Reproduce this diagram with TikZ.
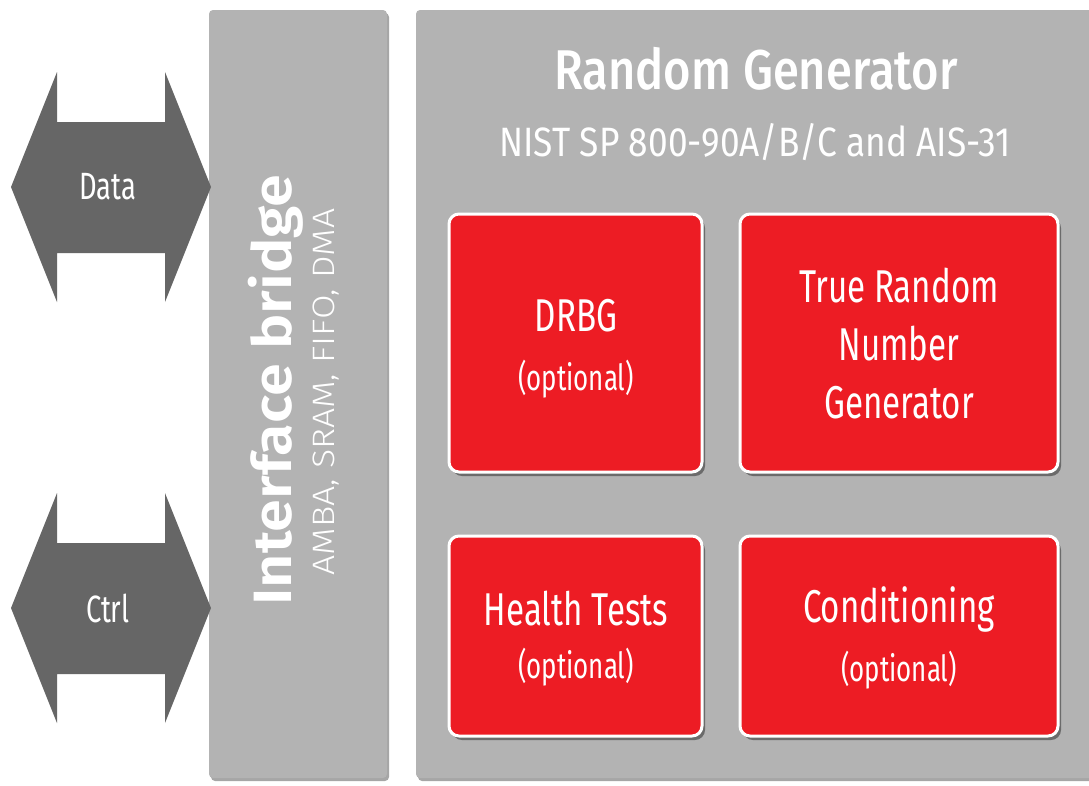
\documentclass[tikz,border=0pt]{standalone}
\usepackage{fontspec}
\setmainfont{Fira Sans}
\newfontfamily\condfont{Fira Sans}[FakeStretch=0.72]
\newfontfamily\subfont{Fira Sans}[FakeStretch=0.86]
\newfontfamily\condmedium{Fira Sans Medium}[FakeStretch=0.84]
\newfontfamily\boldfont{Fira Sans SemiBold}[FakeStretch=1.1]
\newfontfamily\lightfont{Fira Sans Light}[FakeStretch=1.15]
\usetikzlibrary{shadows}
\definecolor{panelgray}{HTML}{B3B3B3}
\definecolor{arrowgray}{HTML}{666666}
\definecolor{blockred}{HTML}{ED1C24}
\tikzset{
  panel/.style={fill=panelgray, rounded corners=4pt,
    drop shadow={shadow xshift=2pt, shadow yshift=-3pt, opacity=0.35, fill=black}},
  block/.style={fill=blockred, draw=white, line width=3pt, rounded corners=10pt,
    drop shadow={shadow xshift=3pt, shadow yshift=-4pt, opacity=0.4, fill=black}},
  bus/.style={fill=arrowgray},
  label/.style={text=white, align=center, inner sep=0pt},
}
\begin{document}
\begin{tikzpicture}[x=1pt, y=-1pt]
  \useasboundingbox (0,0) rectangle (1089,785);
  \fill[white] (0,0) rectangle (1089,785);

  % panels
  \path[panel] (209,10) rectangle (387,778);
  \path[panel] (416,10) rectangle (1100,778);
  \node[label, rotate=90, font=\boldfont\fontsize{54}{54}\selectfont] (bridgetitle) at (276,390) {Interface bridge};
  \node[label, rotate=90, font=\lightfont\fontsize{31}{31}\selectfont] (bridgesub) at (326,392) {AMBA, SRAM, FIFO, DMA};

  \node[label, font=\condmedium\fontsize{56}{56}\selectfont] (rgtitle) at (756,69) {Random Generator};
  \node[label, font=\subfont\fontsize{41}{41}\selectfont] (rgsub) at (755,142) {NIST SP 800-90A/B/C and AIS-31};

  % bidirectional buses
  \path[bus] (11,187) -- (57,72) -- (57,122) -- (165,122) -- (165,72) -- (211,187)
    -- (165,302) -- (165,253) -- (57,253) -- (57,302) -- cycle;
  \node[label, font=\condfont\fontsize{38}{38}\selectfont] (data) at (108,187) {Data};
  \path[bus] (11,608) -- (57,493) -- (57,543) -- (165,543) -- (165,493) -- (211,608)
    -- (165,723) -- (165,674) -- (57,674) -- (57,723) -- cycle;
  \node[label, font=\condfont\fontsize{38}{38}\selectfont] (ctrl) at (108,608) {Ctrl};

  % functional blocks
  \path[block] (449,214) rectangle (702,472);
  \path[block] (740,214) rectangle (1058,472);
  \path[block] (449,536) rectangle (702,736);
  \path[block] (740,536) rectangle (1058,736);

  \node[label, font=\condfont\fontsize{46}{46}\selectfont] (drbg) at (576,316) {DRBG};
  \node[label, font=\condfont\fontsize{36}{36}\selectfont] (drbgopt) at (576,379) {(optional)};
  \node[label, font=\condfont\fontsize{46}{58}\selectfont] (trng) at (899,344) {True Random\\Number\\Generator};
  \node[label, font=\condfont\fontsize{46}{46}\selectfont] (health) at (576,609) {Health Tests};
  \node[label, font=\condfont\fontsize{36}{36}\selectfont] (healthopt) at (576,667) {(optional)};
  \node[label, font=\condfont\fontsize{46}{46}\selectfont] (cond) at (899,609) {Conditioning};
  \node[label, font=\condfont\fontsize{36}{36}\selectfont] (condopt) at (899,670) {(optional)};
\end{tikzpicture}
\end{document}
